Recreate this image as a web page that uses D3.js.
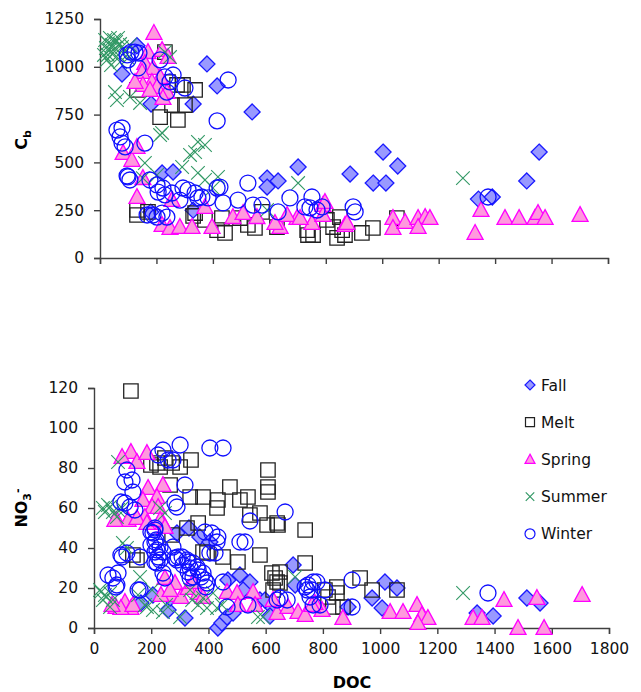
<!DOCTYPE html>
<html><head><meta charset="utf-8">
<script src="https://cdn.jsdelivr.net/npm/d3@7"></script>
<style>
body{margin:0;background:#fff;}
svg{display:block;font-family:"DejaVu Sans",Verdana,sans-serif;}
</style></head><body>
<svg id="c" width="641" height="692"></svg>
<script>
// ---- tick labels / categories ----
const seasons = ["Fall","Melt","Spring","Summer","Winter"];
const cbTicks = [0,250,500,750,1000,1250];
const no3Ticks = [0,20,40,60,80,100,120];
const docTicks = [0,200,400,600,800,1000,1200,1400,1600,1800];

// ---- top panel: [DOC, Cb] ----
const cbFall = [[78,962],[131,1110],[181,805],[330,805],[379,1015],[415,900],[539,764],[220,445],[259,450],[592,418],[631,403],[592,371],[702,476],[886,439],[968,392],[1013,392],[1055,481],[1003,554],[1341,308],[1390,319],[1512,403],[1556,554],[330,250],[180,240]];
const cbMelt = [[230,1077],[131,879],[273,905],[294,905],[337,879],[255,800],[301,800],[213,737],[276,722],[241,920],
 [131,251],[131,225],[170,241],[337,235],[372,199],[415,146],[432,209],[443,131],[496,209],[524,173],[549,157],[574,241],[627,162],[734,146],[737,120],[755,120],[804,199],[826,162],[850,214],[858,146],[840,105],[868,120],[928,131],[967,157],[1052,209],[330,220]];
const cbSpring = [[191,1177],[170,1077],[220,1088],[241,1051],[159,1020],[188,994],[149,973],[213,947],[184,921],[152,905],[202,894],[237,868],[223,837],[177,879],[124,921],
 [82,549],[113,513],[131,581],[152,418],[131,319],[220,173],[248,157],[283,162],[326,162],[397,162],[255,303],[372,267],[471,214],[507,235],[556,214],[638,162],[698,209],[751,183],[620,183],[663,225],[790,277],[790,225],[868,173],[709,209],[797,293],[875,183],[1038,209],[1038,157],[1081,188],[1127,209],[1152,214],[1169,209],[1127,162],[1350,251],[1329,131],[1435,209],[1485,209],[1541,209],[1552,235],[1577,209],[1701,225]];
const cbSummer = [[18,1140],[28,1124],[35,1151],[43,1114],[50,1140],[57,1130],[64,1151],[71,1119],[21,1098],[35,1088],[53,1098],[78,1104],[28,1062],[46,1072],[64,1062],[89,1077],[25,1036],[39,1009],[71,1025],[99,1046],[14,1062],[106,1114],[53,868],[60,826],[106,842],[142,811],[230,1077],[248,1051],
 [220,654],[213,643],[347,607],[372,591],[319,539],[337,554],[159,497],[152,418],[347,445],[372,408],[291,476],[418,424],[702,392],[592,251],[1286,418],[202,434],[400,366]];
const cbWinter = [[96,1062],[110,1077],[124,1077],[138,1072],[99,1036],[135,994],[213,1036],[230,947],[259,957],[248,921],[237,868],[301,889],[454,931],[415,717],[60,669],[78,680],[71,633],[78,601],[89,581],[159,601],[96,429],[106,408],
 [99,424],[177,408],[202,382],[223,366],[206,345],[255,340],[294,366],[312,356],[337,340],[361,319],[383,314],[415,366],[167,225],[188,225],[220,235],[237,214],[202,214],[347,314],[425,371],[436,288],[524,392],[542,277],[631,241],[673,314],[751,319],[744,262],[769,251],[787,267],[726,267],[897,267],[904,241],[1375,319],[230,330],[283,303],[489,303],[574,277]];

// ---- bottom panel: [DOC, NO3-] ----
const no3Fall = [[290,47.5],[332,50],[370,45.5],[405,43],[164,12.5],[206,16.5],[259,9],[318,5],[266,15],[433,0],[447,2.5],[465,5.5],[486,7.5],[468,24],[510,26.5],[545,23],[521,19],[580,14],[622,10.5],[598,14],[615,6],[696,31.5],[703,21.5],[888,10.5],[972,15],[1017,23],[1059,20],[1007,10],[1339,7.5],[1395,6],[1513,15],[1559,12.5]];
const no3Melt = [[129,118.5],[220,82.5],[248,85],[273,82.5],[301,80.5],[339,84],[231,80.5],[199,81.5],[266,71.5],[336,65.5],[381,65.5],[433,64],[430,60],[475,70.5],[510,64],[538,65.5],[545,56.5],[580,57.5],[608,79],[608,70.5],[608,68],[640,52.5],[643,51.5],[738,49],[738,32.5],[273,46.5],[136,36.5],[150,34],[381,38],[395,37.5],[451,35.5],[503,33],[580,36.5],[622,27.5],[650,28],[640,23],[650,22.5],[364,52.5],[325,50],[605,51.5],[626,19],[633,25],[849,20.5],[849,17.5],[807,19],[870,10.5],[835,10.5],[818,15.5],[930,25],[972,19],[1059,19]];
const no3Spring = [[129,88],[98,85.5],[150,83],[185,87.5],[241,71.5],[189,70],[220,65.5],[171,64],[203,60.5],[241,52.5],[178,55.5],[80,54],[119,54],[150,55],[185,52.5],[224,60.5],[231,54],[248,50.5],[73,54],[248,25],[283,22.5],[269,16.5],[304,15.5],[329,20],[234,16.5],[364,17.5],[108,13],[77,10.5],[129,10],[94,10],[63,11.5],[136,11.5],[266,19],[346,23],[381,15.5],[465,18],[500,17.5],[503,11.5],[556,18],[563,11.5],[626,14],[640,7.5],[678,10.5],[713,8],[738,6.5],[797,9],[772,12.5],[870,5],[762,11.5],[1035,8],[1080,8],[1129,11.5],[1146,6.5],[1167,5],[1132,2.5],[1325,5],[1356,5],[1433,14],[1482,0],[1548,15],[1573,0],[1706,16.5]];
const no3Summer = [[84,83],[38,58],[56,60.5],[66,58],[98,60],[80,55.5],[31,60],[49,61.5],[84,59],[231,60],[248,57.5],[101,42.5],[115,40],[21,19],[38,16.5],[56,17.5],[31,14],[66,14],[56,10.5],[24,18],[42,15.5],[161,25.5],[203,19],[185,10.5],[241,8],[301,5.5],[336,19],[343,14],[395,10],[430,10],[591,5.5],[416,17.5],[154,16.5],[178,11.5],[206,9],[252,11.5],[364,11.5],[381,15],[447,11.5],[573,5.5],[703,25.5],[1290,17.5]];
const no3Winter = [[115,79],[108,73],[133,74],[136,68],[108,62.5],[143,59],[98,35.5],[115,37.5],[66,25],[84,27.5],[80,21.5],[161,19],[224,86.5],[241,89],[259,84],[276,84],[301,91.5],[405,90],[451,90],[318,71.5],[290,60.5],[213,49],[206,47.5],[213,43],[220,39],[161,35.5],[224,35.5],[220,32.5],[241,27.5],[248,25],[276,40.5],[283,35],[290,34],[308,35.5],[325,34],[346,32.5],[336,30],[360,30.5],[381,27.5],[388,24],[395,22.5],[346,25.5],[412,47.5],[433,45.5],[430,43],[405,37.5],[423,37.5],[510,43],[528,43],[545,53.5],[668,58],[465,10.5],[538,11.5],[640,14],[675,14],[745,19],[766,23],[766,11.5],[94,63],[126,60.5],[199,48],[213,50],[217,44],[199,41.5],[231,40.5],[213,38],[241,38],[231,34],[213,33],[94,36.5],[294,35.5],[329,33],[311,31.5],[364,29],[329,28],[374,25.5],[336,25],[391,20.5],[49,26.5],[77,20.5],[154,19],[283,62.5],[388,48],[451,23],[650,15],[748,21.5],[779,23],[762,19],[738,20.5],[807,19],[790,11.5],[755,15.5],[902,24],[902,10.5],[1377,17.5]];

// ---- styles ----
const style = {
  Fall:   {shape:"diamond", fill:"#9999FF", stroke:"#1a1aff"},
  Melt:   {shape:"square",  fill:"none",    stroke:"#222"},
  Spring: {shape:"triangle",fill:"#FF99DD", stroke:"#FF00FF"},
  Summer: {shape:"x",       fill:"none",    stroke:"#339966"},
  Winter: {shape:"circle",  fill:"none",    stroke:"#1010ff"}
};
function shapePath(shape, s){ // s = half width
  switch(shape){
    case "diamond": return `M0,${-s}L${s},0L0,${s}L${-s},0Z`;
    case "square": { const h=s*0.9; return `M${-h},${-h}H${h}V${h}H${-h}Z`; }
    case "triangle": { return `M0,${-s*1.05}L${s},${s*0.8}L${-s},${s*0.8}Z`; }
    case "x": { const h=s*0.85; return `M${-h},${-h}L${h},${h}M${-h},${h}L${h},${-h}`; }
    case "circle": { const r=s; return `M${r},0A${r},${r} 0 1,1 ${-r},0A${r},${r} 0 1,1 ${r},0Z`; }
  }
}

const svg = d3.select("#c");
const font = 15.5;

function panel(cfg){
  const x = d3.scaleLinear().domain([0,1800]).range([cfg.x0, cfg.x1]);
  const y = d3.scaleLinear().domain(cfg.ydom).range([cfg.yb, cfg.yt]);
  const g = svg.append("g");
  const ax = g.append("g").attr("transform",`translate(0,${cfg.yb})`)
    .call(d3.axisBottom(x).tickValues(docTicks).tickSize(6).tickPadding(9)
      .tickFormat(cfg.xlabels ? d3.format("d") : ""));
  const ay = g.append("g").attr("transform",`translate(${cfg.x0},0)`)
    .call(d3.axisLeft(y).tickValues(cfg.yticks).tickSize(6).tickPadding(10).tickFormat(d3.format("d")));
  [ax,ay].forEach(a=>{
    a.select(".domain").attr("stroke","#404040").attr("stroke-width",1.4);
    a.selectAll(".tick line").attr("stroke","#404040").attr("stroke-width",1.4);
    a.selectAll(".tick text").attr("fill","#111").style("font-size",font+"px").style("font-family","DejaVu Sans");
  });
  cfg.series.forEach((data,i)=>{
    const st = style[seasons[i]];
    g.append("g").selectAll("path").data(data).join("path")
      .attr("transform",d=>`translate(${x(d[0])},${y(d[1])})`)
      .attr("d",shapePath(st.shape, 8))
      .attr("fill",st.fill).attr("stroke",st.stroke)
      .attr("stroke-width", st.shape==="x"?1.1:1.3);
  });
  return {x,y,g};
}

panel({x0:100,x1:608,yb:258,yt:19,ydom:[0,1250],yticks:cbTicks,xlabels:false,
  series:[cbFall,cbMelt,cbSpring,cbSummer,cbWinter]});
panel({x0:94,x1:609,yb:628,yt:388,ydom:[0,120],yticks:no3Ticks,xlabels:true,
  series:[no3Fall,no3Melt,no3Spring,no3Summer,no3Winter]});

// axis titles
const t1 = svg.append("text").attr("transform","translate(27,140) rotate(-90)")
  .attr("text-anchor","middle").style("font-weight","bold").style("font-size","16px").attr("fill","#000");
t1.append("tspan").text("C");
t1.append("tspan").attr("dy",4).style("font-size","11px").text("b");

const t2 = svg.append("text").attr("transform","translate(27,508) rotate(-90)")
  .attr("text-anchor","middle").style("font-weight","bold").style("font-size","16px").attr("fill","#000");
t2.append("tspan").text("NO");
t2.append("tspan").attr("dy",4).style("font-size","11px").text("3");
t2.append("tspan").attr("dy",-10).style("font-size","11px").text("-");

svg.append("text").attr("x",352).attr("y",688).attr("text-anchor","middle")
  .style("font-weight","bold").style("font-size","16px").text("DOC");

// legend
const leg = svg.append("g");
seasons.forEach((s,i)=>{
  const yy = 385 + i*37.2;
  const st = style[s];
  leg.append("path").attr("transform",`translate(530,${yy})`).attr("d",shapePath(st.shape,5))
    .attr("fill",st.fill).attr("stroke",st.stroke).attr("stroke-width",1.2);
  leg.append("text").attr("x",541).attr("y",yy).attr("dy","0.36em")
    .style("font-size",font+"px").attr("fill","#111").text(s);
});
</script>
</body></html>
